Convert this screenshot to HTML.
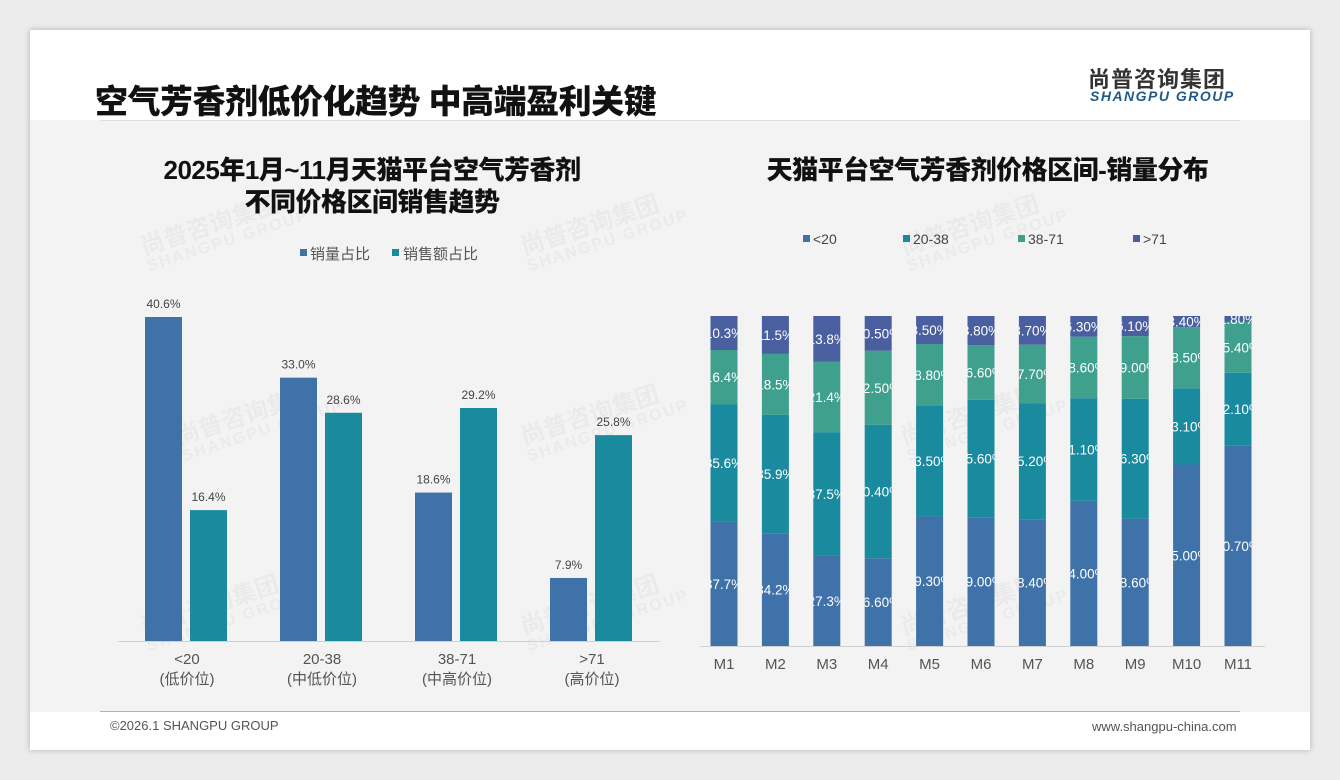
<!DOCTYPE html>
<html><head><meta charset="utf-8">
<style>
body{margin:0;width:1340px;height:780px;background:#ececec;font-family:"Liberation Sans","Noto Sans CJK SC",sans-serif;overflow:hidden;position:relative}
.card{position:absolute;left:30px;top:30px;width:1280px;height:720px;background:#fff;box-shadow:0 0 6px rgba(0,0,0,.25)}
.content{position:absolute;left:30px;top:120px;width:1280px;height:592px;background:#f3f3f3}
.t{position:absolute;white-space:nowrap}
.wm{position:absolute;color:rgba(0,0,0,0.035);font-weight:bold;transform:rotate(-18deg);line-height:1}
</style></head><body>
<div class="card"></div>
<div class="content"></div>
<div class="t" style="left:95px;top:75px;font-size:33px;font-weight:900;color:#111;letter-spacing:-0.5px">空气芳香剂低价化趋势 中高端盈利关键</div>
<div style="position:absolute;left:100px;top:120px;width:1140px;height:1px;background:#ddd"></div>
<div class="t" style="left:1088px;top:62px;font-size:22px;font-weight:bold;color:#333;letter-spacing:1px">尚普咨询集团</div>
<div class="t" style="left:1090px;top:88px;font-size:14px;font-weight:bold;font-style:italic;color:#1e5a8c;letter-spacing:1.5px">SHANGPU GROUP</div>
<div class="t" style="left:127px;top:154px;width:490px;text-align:center;font-size:26px;font-weight:900;color:#111;line-height:32px;letter-spacing:-0.5px">2025年1月~11月天猫平台空气芳香剂<br>不同价格区间销售趋势</div>
<div class="t" style="left:700px;top:154px;width:575px;text-align:center;font-size:26px;font-weight:900;color:#111;line-height:32px;letter-spacing:-0.5px">天猫平台空气芳香剂价格区间-销量分布</div>
<div style="position:absolute;left:100px;top:711px;width:1140px;height:1px;background:#9bb8d6"></div>
<div class="t" style="left:110px;top:718px;font-size:13px;color:#555">©2026.1 SHANGPU GROUP</div>
<div class="t" style="left:1092px;top:719px;font-size:13px;color:#555">www.shangpu-china.com</div>
<div id="wms"></div>
<svg id="left" width="1340" height="780" style="position:absolute;left:0;top:0"></svg>
<svg id="right" width="1340" height="780" style="position:absolute;left:0;top:0"></svg>
<script>
const leftCats=["<20","20-38","38-71",">71"];
const leftSubs=["(低价位)","(中低价位)","(中高价位)","(高价位)"];
const volShare=[40.6,33.0,18.6,7.9];
const revShare=[16.4,28.6,29.2,25.8];
const months=["M1","M2","M3","M4","M5","M6","M7","M8","M9","M10","M11"];
const sLow=[37.7,34.2,27.3,26.6,39.3,39.0,38.4,44.0,38.6,55.0,60.7];
const sMid=[35.6,35.9,37.5,40.4,33.5,35.6,35.2,31.1,36.3,23.1,22.1];
const sHigh=[16.4,18.5,21.4,22.5,18.8,16.6,17.7,18.6,19.0,18.5,15.4];
const sTop=[10.3,11.5,13.8,10.5,8.5,8.8,8.7,6.3,6.1,3.4,1.8];
const rightLabelsDec=[1,1,1,2,2,2,2,2,2,2,2];
const NS="http://www.w3.org/2000/svg";
function mk(p,tag,a){const e=document.createElementNS(NS,tag);for(const k in a)e.setAttribute(k,a[k]);p.appendChild(e);return e;}
const wm=document.getElementById('wms');
[[140,210],[520,210],[900,210],[175,400],[520,400],[900,400],[140,590],[520,590],[900,590]].forEach(p=>{
 const d=document.createElement('div');d.className='wm';d.style.left=p[0]+'px';d.style.top=p[1]+'px';
 d.innerHTML='<div style="font-size:24px">尚普咨询集团</div><div style="font-size:16px;letter-spacing:2px">SHANGPU GROUP</div>';
 
 
 wm.appendChild(d);});
const L=document.getElementById('left');
const lBase=641,lScale=7.98;
const ly=v=>lBase-v*lScale;
const lx=i=>187+i*135;
mk(L,'line',{x1:118,x2:660,y1:lBase+0.5,y2:lBase+0.5,stroke:'#d0d0d0'});
let lg=mk(L,'rect',{x:300,y:249,width:7,height:7,fill:'#3f72a8'});

let lt=mk(L,'text',{x:310,y:259,'font-size':15,fill:'#555'});lt.textContent='销量占比';

lg=mk(L,'rect',{x:392,y:249,width:7,height:7,fill:'#1a8a9e'});

lt=mk(L,'text',{x:403,y:259,'font-size':15,fill:'#555'});lt.textContent='销售额占比';

leftCats.forEach((c,i)=>{
 const cx=lx(i);
 [[volShare,'#3f72a8',-42,'volume'],[revShare,'#1a8a9e',3,'revenue']].forEach(([arr,col,off,nm])=>{
  const v=arr[i];
  const r=mk(L,'rect',{x:cx+off,y:ly(v),width:37,height:v*lScale,fill:col});
  
  
  const t=mk(L,'text',{x:cx+off+18.5,y:ly(v)-9,'font-size':12,fill:'#444','text-anchor':'middle'});
  t.textContent=v.toFixed(1)+'%';
  
  
 });
 const a=mk(L,'text',{x:cx,y:664,'font-size':15,fill:'#555','text-anchor':'middle'});a.textContent=c;
 
 const b=mk(L,'text',{x:cx,y:684,'font-size':15,fill:'#555','text-anchor':'middle'});b.textContent=leftSubs[i];
 
});
const R=document.getElementById('right');
const rTop=316,rBot=646,rH=rBot-rTop;
const rx=i=>724+i*51.4;
mk(R,'line',{x1:700,x2:1265,y1:rBot+0.5,y2:rBot+0.5,stroke:'#d0d0d0'});
const series=[[sLow,'#3f72a8','<20'],[sMid,'#1a8a9e','20-38'],[sHigh,'#3fa08e','38-71'],[sTop,'#4a5fa0','>71']];
const legX=[803,903,1018,1133];
series.forEach((s,k)=>{
 const r=mk(R,'rect',{x:legX[k],y:235,width:7,height:7,fill:s[1]});
 
 const t=mk(R,'text',{x:legX[k]+10,y:244,'font-size':14,fill:'#444'});t.textContent=s[2];
 
});
const defs=mk(R,'defs',{});
months.forEach((m,i)=>{
 const cx=rx(i),w=27;
 const tot=sLow[i]+sMid[i]+sHigh[i]+sTop[i];
 const cp=mk(defs,'clipPath',{id:'c'+i});mk(cp,'rect',{x:cx-w/2,y:rTop,width:w,height:rH});
 let acc=0;
 series.forEach((s,k)=>{
  const v=s[0][i];
  const h=v/tot*rH;const y=rBot-acc-h;acc+=h;
  const r=mk(R,'rect',{x:cx-w/2,y:y,width:w,height:h,fill:s[1]});
  
  
  const t=mk(R,'text',{x:cx,y:y+h/2+5,'font-size':13.5,fill:'#fff','text-anchor':'middle','clip-path':'url(#c'+i+')'});
  t.textContent=v.toFixed(rightLabelsDec[i])+'%';
  
  
 });
 const a=mk(R,'text',{x:cx,y:669,'font-size':15,fill:'#555','text-anchor':'middle'});a.textContent=m;
 
});
</script>
</body></html>
